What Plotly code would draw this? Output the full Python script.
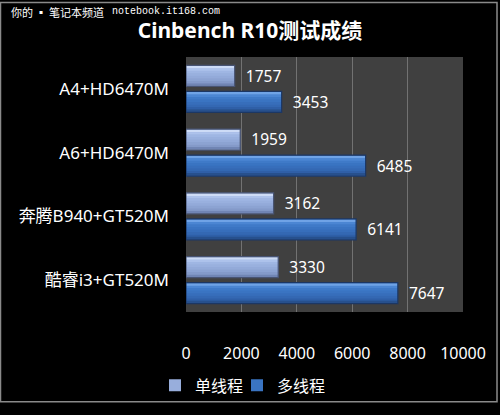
import plotly.graph_objects as go

categories = ["A4+HD6470M", "A6+HD6470M", "奔腾B940+GT520M", "酷睿i3+GT520M"]
single_thread = [1757, 1959, 3162, 3330]
multi_thread = [3453, 6485, 6141, 7647]
series_names = ["单线程", "多线程"]
x_ticks = [0, 2000, 4000, 6000, 8000, 10000]
x_tick_text = ["0", "2000", "4000", "6000", "8000", "10000"]

W, H = 500, 415
L, R, T, B = 186, 463, 57, 321  # plot area in px

def px_x(px):
    return (px - L) / (R - L)

def px_y(py):
    return (B - py) / (B - T)

FONT = "Noto Sans, Noto Sans CJK SC, sans-serif"

fig = go.Figure()

styles = [
    # (band colours top->bottom, legend colour, outline, offset)
    (["#cddbf6", "#adc2eb", "#9fb6e3", "#99b0de", "#93aad9", "#8ca3d2", "#849ac9", "#7085b4"],
     "#98aedc", "rgb(72,84,115)", -0.37),
    (["#6fa3e6", "#4b86d3", "#3f7ac8", "#3a74c2", "#376ebb", "#3468b3", "#2f5fa7", "#27508d"],
     "#3a74c2", "rgb(28,55,100)", 0.04),
]
bw = 0.33
for vals, name, (bands, legcol, cline, off) in zip([single_thread, multi_thread], series_names, styles):
    fig.add_trace(go.Bar(
        y=categories, x=vals, orientation="h", name=name,
        offset=off, width=bw,
        marker=dict(color=legcol, line=dict(width=0)),
        showlegend=True, hoverinfo="skip",
    ))
    nb = len(bands)
    inset = 0.01
    h = (bw - 2 * inset) / nb
    for k, col in enumerate(bands):
        fig.add_trace(go.Bar(
            y=categories, x=vals, orientation="h",
            offset=off + inset + k * h, width=h * 1.05,
            marker=dict(color=col, line=dict(width=0)),
            showlegend=False, hoverinfo="skip",
        ))
    fig.add_trace(go.Bar(
        y=categories, x=vals, orientation="h",
        offset=off, width=bw,
        marker=dict(color="rgba(0,0,0,0)", line=dict(width=1.2, color=cline)),
        text=vals, texttemplate="  %{x}", textposition="outside",
        textfont=dict(color="white", size=17, family=FONT),
        cliponaxis=False, showlegend=False,
    ))

# invisible spacer legend entry so the last real entry is not clipped
fig.add_trace(go.Bar(
    y=[categories[0]], x=[0], orientation="h", name=" ",
    marker=dict(color="rgba(0,0,0,0)", line=dict(width=0)),
    showlegend=True, hoverinfo="skip",
))

fig.update_layout(
    width=W, height=H,
    margin=dict(l=L, r=W - R, t=T, b=H - B),
    paper_bgcolor="black", plot_bgcolor="#404040",
    barmode="overlay",
    showlegend=True,
    legend=dict(orientation="h", x=px_x(155), y=px_y(397), xanchor="left", yanchor="middle",
                font=dict(color="white", size=16, family=FONT), bgcolor="rgba(0,0,0,0)",
                itemwidth=30, entrywidth=37, tracegroupgap=0),
    title=dict(text="<b>Cinbench R10测试成绩</b>", x=0.5, xref="container", xanchor="center",
               y=1 - 31 / H, yanchor="middle",
               font=dict(color="white", size=21, family=FONT)),
    xaxis=dict(range=[0, 10000], tickvals=x_ticks, ticktext=x_tick_text,
               showgrid=True, gridcolor="#727272", gridwidth=1,
               zeroline=False, showline=False, ticks="",
               tickfont=dict(color="white", size=16, family=FONT), ticklabelstandoff=30),
    yaxis=dict(categoryorder="array", categoryarray=categories, autorange="reversed",
               showgrid=False, zeroline=False, showline=False, ticks="",
               tickfont=dict(color="white", size=17, family=FONT), ticklabelstandoff=16),
    shapes=[dict(type="rect", xref="paper", yref="paper",
                 x0=px_x(0.5), x1=px_x(497), y0=px_y(414), y1=px_y(0.5),
                 line=dict(color="#8a8a8a", width=1.5), fillcolor="rgba(0,0,0,0)", layer="above")],
    annotations=[
        dict(text="你的 ▪ 笔记本频道", xref="paper", yref="paper", x=px_x(9), y=px_y(10),
             xanchor="left", yanchor="middle", showarrow=False,
             font=dict(color="white", size=11, family="Noto Sans CJK SC")),
        dict(text="notebook.it168.com", xref="paper", yref="paper", x=px_x(110), y=px_y(10),
             xanchor="left", yanchor="middle", showarrow=False,
             font=dict(color="white", size=10, family="Liberation Mono")),
    ],
)

fig.write_html("out.html")
